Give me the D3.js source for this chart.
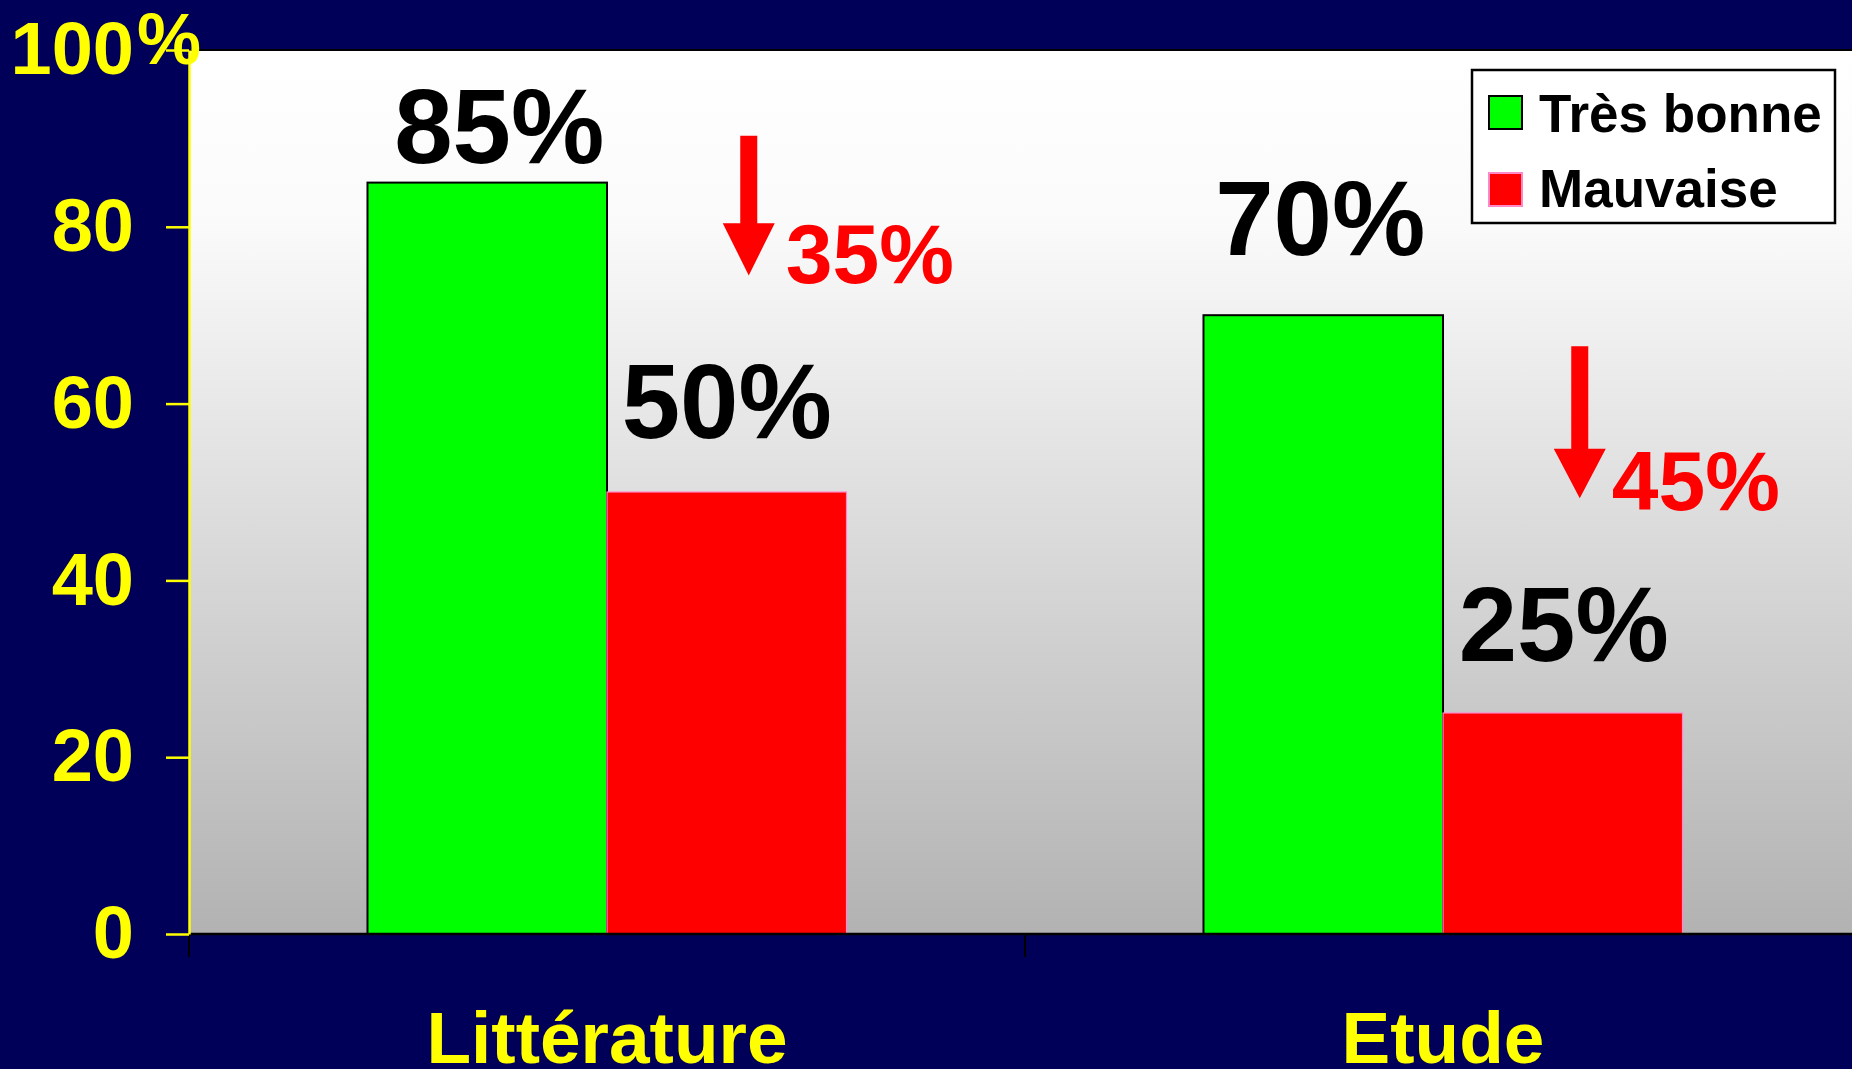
<!DOCTYPE html>
<html>
<head>
<meta charset="utf-8">
<script src="https://cdn.jsdelivr.net/npm/d3@7"></script>
<style>
  html, body { margin: 0; padding: 0; background: #000058; overflow: hidden; }
  svg { display: block; }
  text { font-family: "Liberation Sans", Arial, sans-serif; font-weight: bold; }
</style>
</head>
<body>
<svg id="chart" width="1852" height="1069"></svg>
<script>
// ---- data ----
const categories = ["Littérature", "Etude"];
const seriesNames = ["Très bonne", "Mauvaise"];
const tresBonne = [85, 70];
const mauvaise = [50, 25];
const yTicks = [0, 20, 40, 60, 80, 100];

// ---- layout / style ----
const W = 1852, H = 1069;
const plot = { left: 189, top: 50, right: 1861, bottom: 934 };
const colors = { "Très bonne": "#00ff00", "Mauvaise": "#ff0000" };
const strokes = { "Très bonne": "#000000", "Mauvaise": "#ff88c8" };
const groupFrac = 0.573;
const labelLift = [[20, 54], [60, 52]];      // px above bar top for value labels
const labelShift = [[12, 0], [-3, 1]];       // px horizontal nudge of value labels
const arrowLayout = [
  { top: 90.3, base: 80.4, tip: 74.5, dx: 22, tdx: 37, tdy: 8 },
  { top: 66.5, base: 54.9, tip: 49.3, dx: 17, tdx: 32, tdy: 12 }
];

const svg = d3.select("#chart");

// background gradient for plot area
const defs = svg.append("defs");
const grad = defs.append("linearGradient").attr("id", "plotGrad")
  .attr("x1", 0).attr("y1", 0).attr("x2", 0).attr("y2", 1);
grad.append("stop").attr("offset", "0%").attr("stop-color", "#ffffff");
grad.append("stop").attr("offset", "20%").attr("stop-color", "#fafafa");
grad.append("stop").attr("offset", "100%").attr("stop-color", "#b2b2b2");

const y = d3.scaleLinear().domain([0, 100]).range([plot.bottom, plot.top]);
const x0 = d3.scaleBand().domain(categories).range([plot.left, plot.right]).padding(0);
const groupW = x0.bandwidth() * groupFrac;
const x1 = d3.scaleBand().domain(seriesNames).range([0, groupW]).padding(0);
const groupStart = c => x0(c) + (x0.bandwidth() - groupW) / 2;

// plot background
svg.append("rect")
  .attr("x", plot.left).attr("y", plot.top)
  .attr("width", plot.right - plot.left).attr("height", plot.bottom - plot.top)
  .attr("fill", "url(#plotGrad)");
svg.append("line")
  .attr("x1", plot.left).attr("x2", W).attr("y1", plot.top).attr("y2", plot.top)
  .attr("stroke", "#000").attr("stroke-width", 2);

// bars
const rows = categories.map((c, i) => ({ cat: c, i, vals: [tresBonne[i], mauvaise[i]] }));
const g = svg.append("g");
rows.forEach(r => {
  seriesNames.forEach((s, j) => {
    const v = r.vals[j];
    g.append("rect")
      .attr("x", groupStart(r.cat) + x1(s))
      .attr("y", y(v))
      .attr("width", x1.bandwidth())
      .attr("height", y(0) - y(v))
      .attr("fill", colors[s])
      .attr("stroke", strokes[s])
      .attr("stroke-width", j === 0 ? 2 : 1.2);
  });
});

// value labels
rows.forEach(r => {
  seriesNames.forEach((s, j) => {
    const v = r.vals[j];
    svg.append("text")
      .attr("x", groupStart(r.cat) + x1(s) + x1.bandwidth() / 2 + labelShift[r.i][j])
      .attr("y", y(v) - labelLift[r.i][j])
      .attr("text-anchor", "middle")
      .attr("font-size", 105)
      .attr("fill", "#000")
      .text(v + "%");
  });
});

// red arrows showing drop
rows.forEach(r => {
  const a = arrowLayout[r.i];
  const cx = groupStart(r.cat) + x1("Mauvaise") + x1.bandwidth() / 2 + a.dx;
  const sw = 8.5, hw = 26;
  const path = d3.path();
  path.moveTo(cx - sw, y(a.top));
  path.lineTo(cx + sw, y(a.top));
  path.lineTo(cx + sw, y(a.base));
  path.lineTo(cx + hw, y(a.base));
  path.lineTo(cx, y(a.tip));
  path.lineTo(cx - hw, y(a.base));
  path.lineTo(cx - sw, y(a.base));
  path.closePath();
  svg.append("path").attr("d", path.toString()).attr("fill", "#ff0000");
  svg.append("text")
    .attr("x", cx + a.tdx)
    .attr("y", y(a.tip) + a.tdy)
    .attr("font-size", 84)
    .attr("fill", "#ff0000")
    .text((r.vals[0] - r.vals[1]) + "%");
});

// bottom axis line
svg.append("line")
  .attr("x1", plot.left).attr("x2", W).attr("y1", plot.bottom).attr("y2", plot.bottom)
  .attr("stroke", "#000").attr("stroke-width", 2.5);

// category boundary ticks
svg.append("g").selectAll("line").data(categories).join("line")
  .attr("x1", d => x0(d)).attr("x2", d => x0(d))
  .attr("y1", plot.bottom).attr("y2", plot.bottom + 23)
  .attr("stroke", "#000").attr("stroke-width", 2);

// category labels via axis
const xAxis = d3.axisBottom(x0).tickSize(0).tickPadding(77);
const gx = svg.append("g").attr("transform", `translate(0,${plot.bottom})`).call(xAxis);
gx.select(".domain").remove();
gx.selectAll("text").attr("fill", "#ffff00").attr("font-size", 73)
  .attr("font-family", "'Liberation Sans', Arial, sans-serif").attr("font-weight", "bold");

// y axis
const yAxis = d3.axisLeft(y).tickValues(yTicks).tickFormat(d => d).tickSize(23).tickSizeOuter(0).tickPadding(32);
const gy = svg.append("g").attr("transform", `translate(${plot.left},0)`).call(yAxis);
gy.select(".domain").attr("stroke", "#ffff00").attr("stroke-width", 2.5);
gy.selectAll(".tick line").attr("stroke", "#ffff00").attr("stroke-width", 2.5);
gy.selectAll(".tick text").attr("fill", "#ffff00").attr("font-size", 74)
  .attr("font-family", "'Liberation Sans', Arial, sans-serif").attr("font-weight", "bold");
svg.append("text")
  .attr("x", 137).attr("y", y(100) + 14)
  .attr("font-size", 72).attr("fill", "#ffff00")
  .text("%");

// legend
const lg = svg.append("g").attr("transform", "translate(1472,70)");
lg.append("rect").attr("width", 363).attr("height", 153)
  .attr("fill", "#ffffff").attr("stroke", "#000").attr("stroke-width", 2.5);
seriesNames.forEach((s, j) => {
  lg.append("rect").attr("x", 17).attr("y", 26 + j * 77).attr("width", 33).attr("height", 33)
    .attr("fill", colors[s]).attr("stroke", strokes[s]).attr("stroke-width", 2);
  lg.append("text").attr("x", 67).attr("y", 62 + j * 75)
    .attr("font-size", 53).attr("fill", "#000").text(s);
});
</script>
</body>
</html>
